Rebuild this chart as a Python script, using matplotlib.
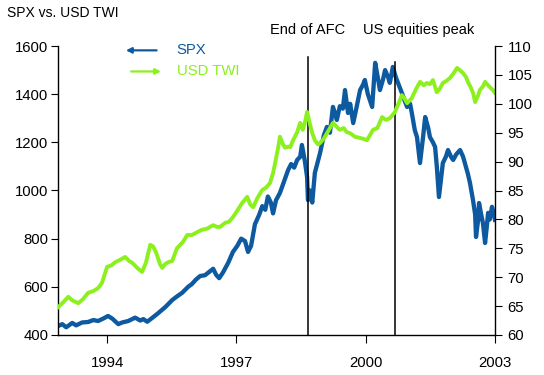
import matplotlib
matplotlib.use('Agg')
import matplotlib.pyplot as plt

plt.rcParams['font.family'] = ['Liberation Sans', 'DejaVu Sans']

# S&P 500 index (left axis), dates as fractional years
spx_years = [
    1992.86, 1992.96, 1993.05, 1993.19, 1993.28, 1993.42, 1993.56, 1993.68, 1993.79, 1993.93,
    1994.02, 1994.12, 1994.26, 1994.35, 1994.49, 1994.65, 1994.77, 1994.84, 1994.93, 1995.04,
    1995.18, 1995.35, 1995.51, 1995.62, 1995.74, 1995.88, 1995.97, 1996.06, 1996.16, 1996.27,
    1996.39, 1996.46, 1996.53, 1996.60, 1996.69, 1996.81, 1996.92, 1997.02, 1997.11, 1997.20,
    1997.27, 1997.34, 1997.43, 1997.53, 1997.60, 1997.67, 1997.73, 1997.80, 1997.85, 1997.92,
    1998.01, 1998.11, 1998.20, 1998.27, 1998.34, 1998.41, 1998.48, 1998.52, 1998.59, 1998.64,
    1998.66, 1998.71, 1998.76, 1998.82, 1998.89, 1998.94, 1999.03, 1999.10, 1999.17, 1999.24,
    1999.29, 1999.33, 1999.40, 1999.47, 1999.52, 1999.59, 1999.64, 1999.71, 1999.77, 1999.87,
    1999.94, 1999.98, 2000.05, 2000.15, 2000.22, 2000.29, 2000.33, 2000.40, 2000.45, 2000.52,
    2000.56, 2000.63, 2000.70, 2000.75, 2000.84, 2000.91, 2000.96, 2001.03, 2001.07, 2001.14,
    2001.19, 2001.26, 2001.33, 2001.38, 2001.45, 2001.49, 2001.56, 2001.61, 2001.65, 2001.70,
    2001.75, 2001.79, 2001.86, 2001.91, 2001.98, 2002.03, 2002.10, 2002.19, 2002.26, 2002.30,
    2002.37, 2002.42, 2002.49, 2002.54, 2002.56, 2002.61, 2002.63, 2002.68, 2002.72, 2002.77,
    2002.81, 2002.84, 2002.88, 2002.93, 2002.98, 2003.00,
]
spx_values = [
    437, 445, 432, 450, 440, 452, 454, 462, 458, 470,
    479, 468, 445, 452, 458, 472, 460, 466, 455, 470,
    490, 516, 545, 560, 575, 600, 612, 630, 645, 648,
    665, 675, 650, 636, 660, 700, 745, 770, 800, 790,
    745, 770, 860, 900, 935, 920, 975, 950, 905, 960,
    990, 1040, 1085, 1110, 1095, 1127, 1140, 1189, 1120, 1056,
    960, 1000, 950, 1073, 1120, 1155, 1230, 1264, 1240, 1347,
    1320, 1293, 1350, 1340, 1417, 1322, 1360, 1280, 1330, 1417,
    1440, 1459, 1400, 1347, 1530, 1460, 1417, 1460, 1500, 1470,
    1447, 1513, 1470, 1447, 1405, 1370, 1347, 1360, 1322, 1250,
    1222, 1114, 1220, 1305, 1260, 1222, 1200, 1181, 1100, 973,
    1050, 1114, 1140, 1168, 1140, 1127, 1150, 1168, 1140, 1114,
    1070, 1031, 960, 900, 807, 880, 948, 900, 865, 782,
    850, 907, 880, 932, 900, 878,
]

# USD trade-weighted index (right axis)
twi_years = [
    1992.86, 1992.96, 1993.10, 1993.19, 1993.33, 1993.44, 1993.56, 1993.68, 1993.79, 1993.88,
    1994.00, 1994.09, 1994.19, 1994.30, 1994.42, 1994.51, 1994.58, 1994.70, 1994.81, 1994.90,
    1995.00, 1995.07, 1995.14, 1995.23, 1995.28, 1995.35, 1995.42, 1995.51, 1995.62, 1995.76,
    1995.86, 1995.97, 1996.09, 1996.20, 1996.32, 1996.46, 1996.55, 1996.62, 1996.74, 1996.83,
    1996.92, 1997.02, 1997.13, 1997.25, 1997.32, 1997.39, 1997.48, 1997.60, 1997.69, 1997.78,
    1997.85, 1997.90, 1997.97, 1998.01, 1998.08, 1998.13, 1998.20, 1998.25, 1998.31, 1998.41,
    1998.48, 1998.54, 1998.59, 1998.64, 1998.69, 1998.76, 1998.82, 1998.89, 1998.94, 1999.03,
    1999.10, 1999.17, 1999.24, 1999.33, 1999.40, 1999.49, 1999.56, 1999.64, 1999.75, 1999.87,
    1999.96, 2000.03, 2000.10, 2000.17, 2000.27, 2000.38, 2000.47, 2000.56, 2000.68, 2000.77,
    2000.84, 2000.91, 2000.96, 2001.07, 2001.17, 2001.26, 2001.35, 2001.42, 2001.49, 2001.56,
    2001.65, 2001.72, 2001.79, 2001.88, 2001.96, 2002.05, 2002.12, 2002.19, 2002.26, 2002.33,
    2002.37, 2002.44, 2002.49, 2002.54, 2002.61, 2002.65, 2002.72, 2002.77, 2002.84, 2002.88,
    2002.95, 2003.00,
]
twi_values = [
    64.8, 65.5, 66.6, 66.0, 65.5, 66.2, 67.3, 67.6, 68.1, 69.0,
    71.8, 72.0, 72.6, 73.0, 73.5, 72.8, 72.5, 71.6, 70.9, 72.5,
    75.6, 75.3, 74.2, 72.2, 71.6, 72.3, 72.6, 72.8, 75.0, 76.1,
    77.3, 77.3, 77.8, 78.2, 78.4, 79.0, 78.7, 78.7, 79.4, 79.6,
    80.4, 81.5, 82.8, 83.9, 82.6, 82.1, 83.6, 85.1, 85.5, 86.3,
    88.0, 89.8, 92.5, 94.3, 93.0, 92.4, 92.6, 92.5, 93.6, 95.1,
    96.7, 95.5, 96.8, 98.6, 97.0, 94.9, 93.7, 93.0, 93.2, 94.0,
    94.9, 95.8, 96.7, 96.0, 95.5, 95.8, 95.1, 94.9, 94.3, 94.1,
    93.9, 93.7, 94.6, 95.5, 95.8, 97.7, 97.2, 97.5, 98.6, 100.2,
    101.5, 100.8, 100.1, 101.0, 102.6, 103.8, 103.2, 103.6, 103.4, 104.1,
    102.0, 102.6, 103.6, 104.0, 104.5, 105.4, 106.2, 105.8, 105.3, 104.6,
    103.8, 102.8, 101.9, 100.3, 101.5, 102.4, 103.0, 103.8, 103.2, 102.9,
    102.4, 101.9,
]

year_ticks = [1994, 1997, 2000, 2003]
spx_ticks = [400, 600, 800, 1000, 1200, 1400, 1600]
twi_ticks = [60, 65, 70, 75, 80, 85, 90, 95, 100, 105, 110]

events = [(1998.66, 'End of AFC', 1998.65, 0.962), (2000.67, 'US equities peak', 2001.22, 0.945)]

blue = '#0d5aa0'
green = '#8cf01e'

fig = plt.figure(figsize=(5.44, 3.75), dpi=100)
ax = fig.add_axes([0.1066, 0.1067, 0.8033, 0.7706])
ax2 = ax.twinx()

ax.plot(spx_years, spx_values, color=blue, lw=3.1, solid_joinstyle='round')
ax2.plot(twi_years, twi_values, color=green, lw=2.8, solid_joinstyle='round')

ax.set_xlim(1992.86, 2003.0)
ax.set_ylim(400, 1600)
ax2.set_ylim(60, 110)
ax.set_xticks(year_ticks)
ax.set_xticklabels([str(y) for y in year_ticks])
ax.set_yticks(spx_ticks)
ax2.set_yticks(twi_ticks)

for a in (ax, ax2):
    a.spines['top'].set_visible(False)
    for s in a.spines.values():
        s.set_linewidth(1.0)
ax.spines['right'].set_visible(False)
ax2.spines['left'].set_visible(False)
ax2.spines['bottom'].set_visible(False)

ax.tick_params(axis='x', direction='out', length=6, pad=9, labelsize=10.7)
ax.tick_params(axis='y', direction='out', length=5, pad=2, labelsize=10.7)
ax2.tick_params(axis='y', direction='out', length=5, pad=4, labelsize=10.7)

for xv, label, xt, top in events:
    ax.axvline(xv, ymin=0, ymax=top, color='black', lw=1.1)
    ax.text(xt, 1665, label, ha='center', va='center', fontsize=10.5)

# arrow legend
ax.annotate('', xy=(0.149, 0.985), xytext=(0.232, 0.985), xycoords='axes fraction',
            arrowprops=dict(arrowstyle='-|>', color=blue, lw=1.6, mutation_scale=8))
ax.annotate('', xy=(0.242, 0.912), xytext=(0.161, 0.912), xycoords='axes fraction',
            arrowprops=dict(arrowstyle='-|>', color=green, lw=1.6, mutation_scale=8))
ax.text(0.272, 0.985, 'SPX', transform=ax.transAxes, color=blue, fontsize=10.7, va='center')
ax.text(0.272, 0.912, 'USD TWI', transform=ax.transAxes, color=green, fontsize=10.7, va='center')

fig.text(0.013, 0.965, 'SPX vs. USD TWI', fontsize=10, va='center', ha='left')

fig.savefig('out.png', dpi=100)
